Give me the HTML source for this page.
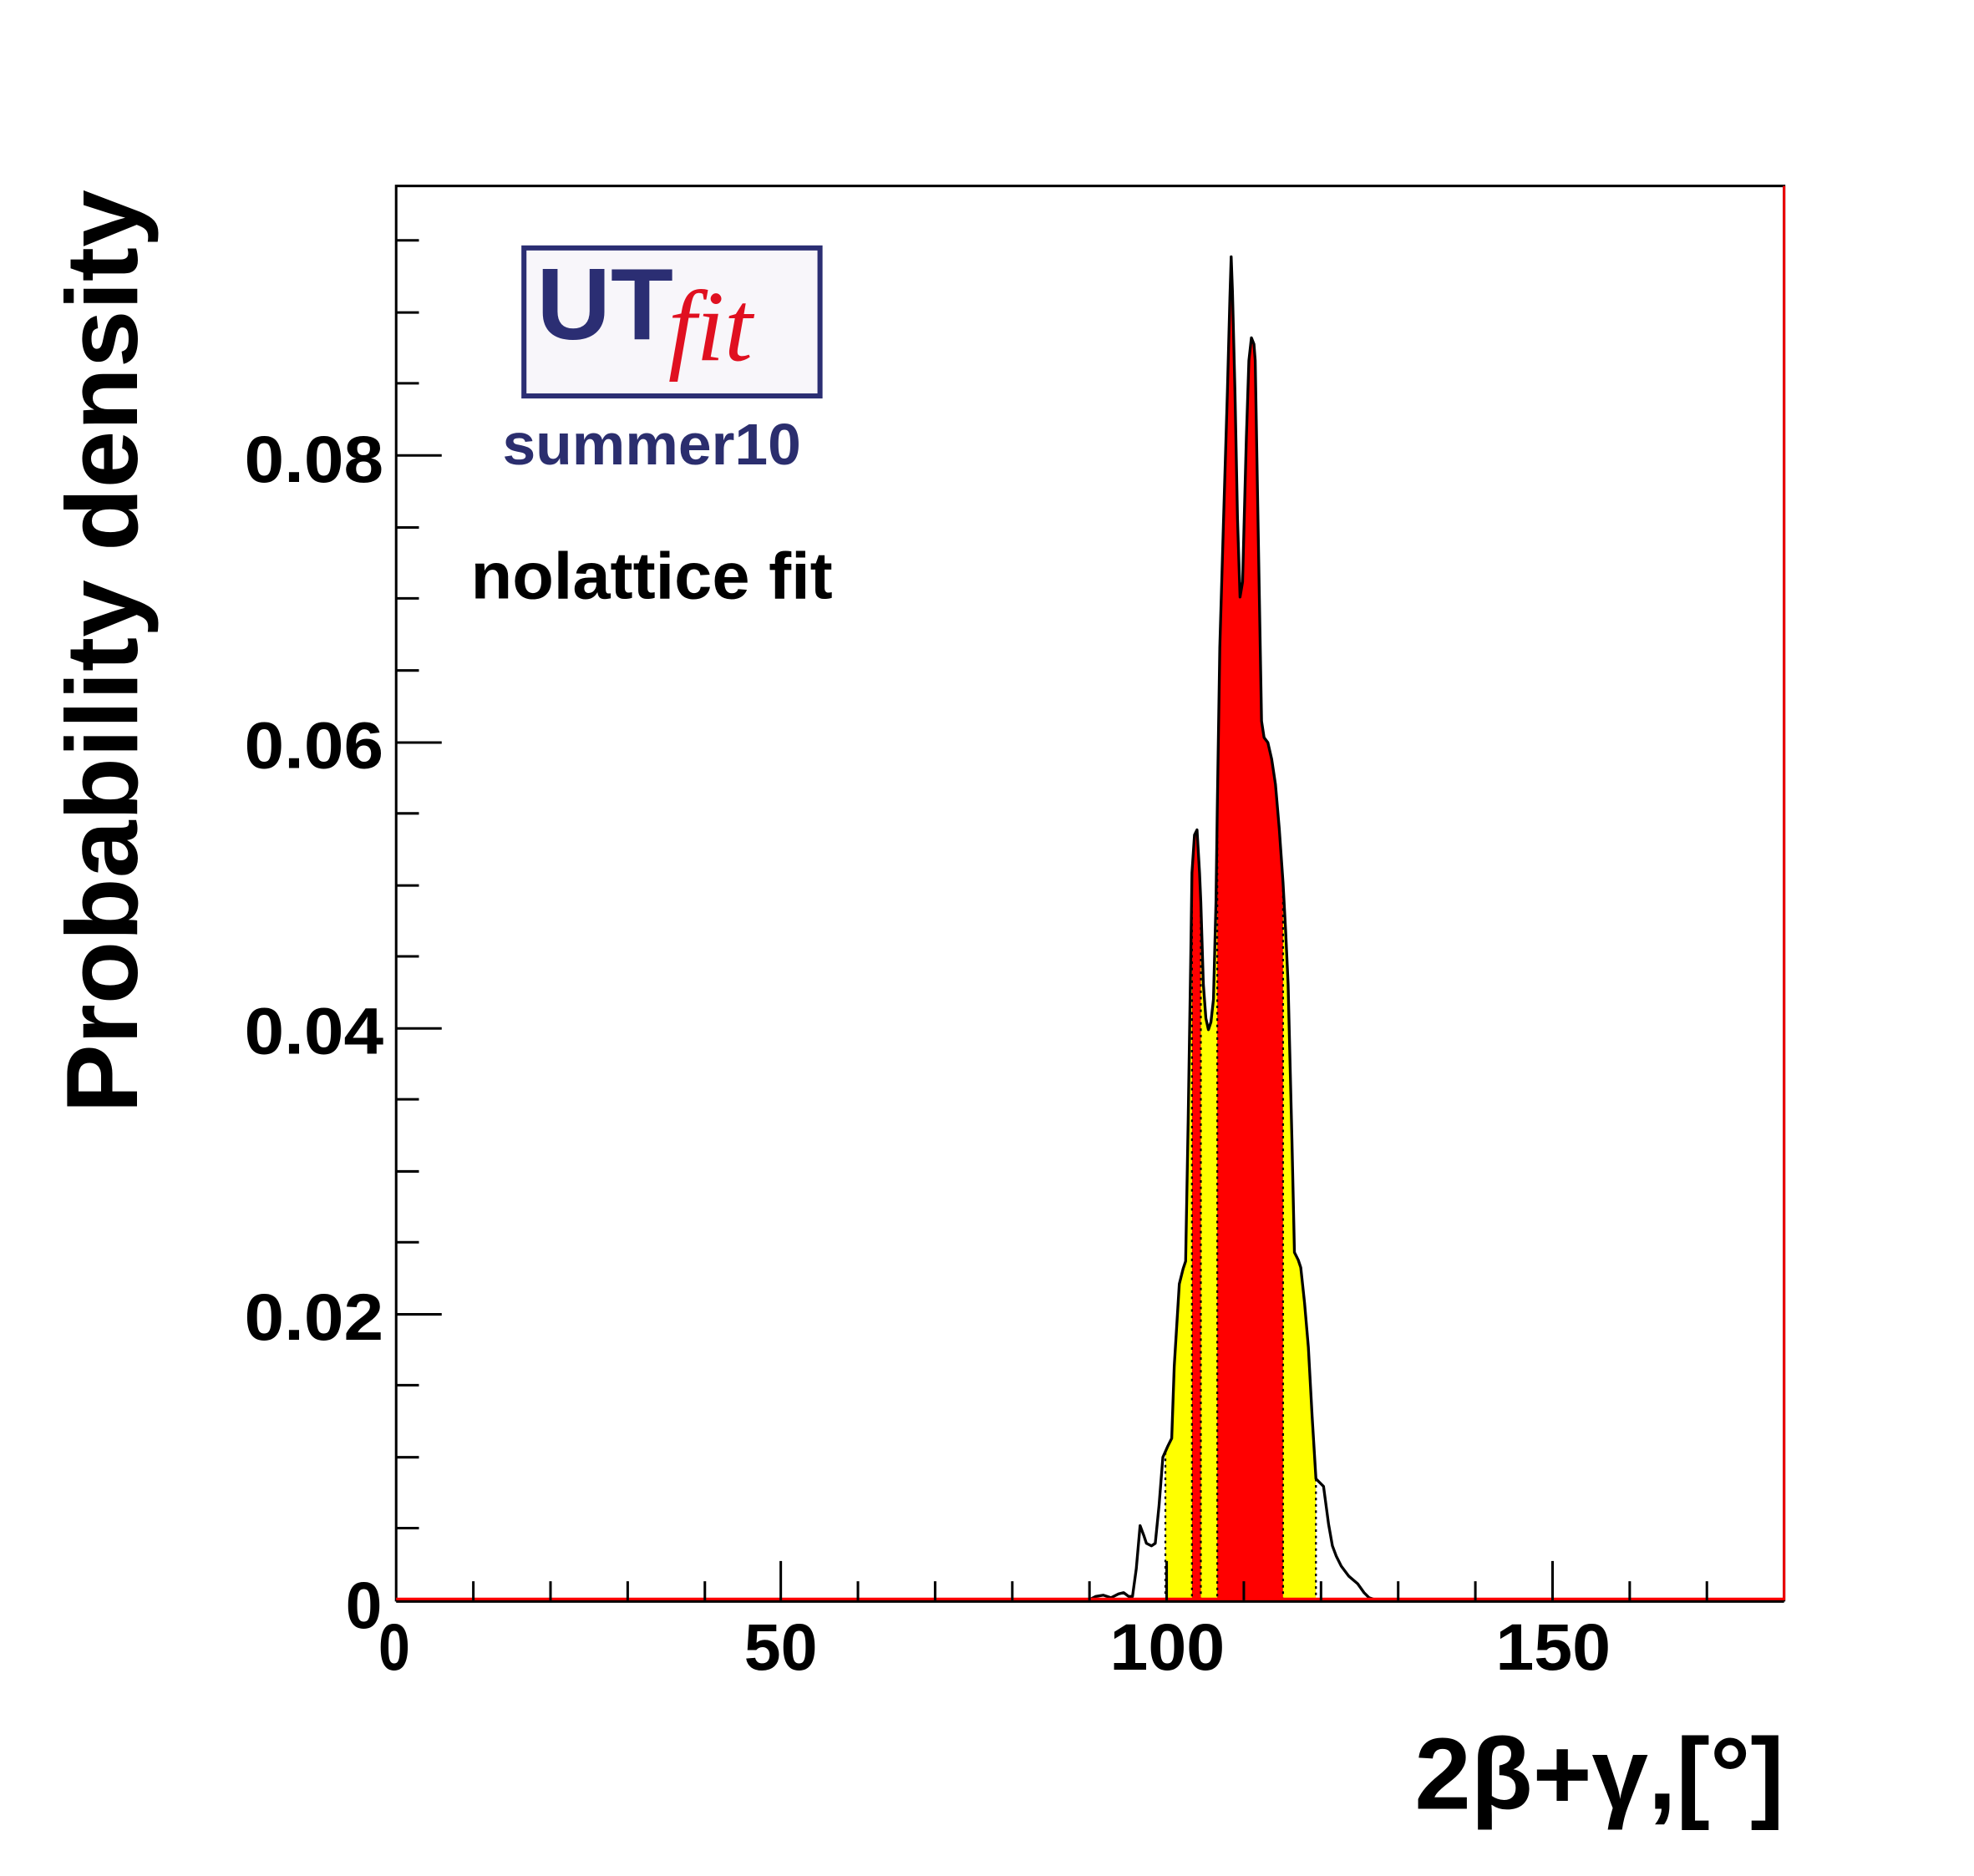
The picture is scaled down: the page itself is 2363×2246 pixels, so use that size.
<!DOCTYPE html>
<html><head><meta charset="utf-8"><style>
html,body{margin:0;padding:0;background:#fff;}
svg{display:block;}
text{font-family:"Liberation Sans",sans-serif;font-weight:bold;}
</style></head><body>
<svg width="2363" height="2246" viewBox="0 0 1560 1483" xmlns="http://www.w3.org/2000/svg">
<defs>
<path id="c" d="M313,1265 L860,1265 L866,1262 L872,1261 L878,1263 L884,1260 L888,1259 L892,1262 L895,1262 L898,1240 L901,1206 L904,1214 L906,1220 L910,1222 L913,1220 L916,1190 L919,1152 L923,1143 L926,1137 L928,1080 L932,1015 L935,1003 L937,997 L939,886 L941,760 L942,690 L944,660 L946,656 L948,690 L949,713 L951,778 L953,805 L955,814 L957,808 L959,790 L961,713 L962,640 L964,512 L967,410 L970,310 L972,235 L973,203 L974,230 L976,310 L978,410 L980,472 L982,460 L985,346 L987,285 L989,267 L991,272 L992,285 L994,400 L997,570 L999,583 L1002,587 L1005,600 L1008,620 L1011,655 L1014,698 L1016,735 L1018,778 L1021,900 L1023,990 L1026,996 L1028,1002 L1031,1030 L1034,1065 L1037,1120 L1040,1169 L1043,1172 L1046,1175 L1050,1205 L1053,1222 L1056,1230 L1060,1238 L1066,1246 L1073,1252 L1078,1259 L1082,1263 L1088,1265 L1410,1265"/>
<clipPath id="y"><rect x="921" y="0" width="119" height="1300"/></clipPath>
<clipPath id="r"><rect x="942" y="0" width="7" height="1300"/><rect x="962" y="0" width="52" height="1300"/></clipPath>
</defs>
<use href="#c" fill="#ffff00" clip-path="url(#y)"/>
<use href="#c" fill="#ff0000" clip-path="url(#r)"/>
<g stroke="#000" stroke-width="1.5" stroke-dasharray="2,3">
<line x1="921" y1="1148" x2="921" y2="1265"/>
<line x1="942" y1="690" x2="942" y2="1265"/>
<line x1="949" y1="713" x2="949" y2="1265"/>
<line x1="962" y1="640" x2="962" y2="1265"/>
<line x1="1014" y1="698" x2="1014" y2="1265"/>
<line x1="1040" y1="1169" x2="1040" y2="1265"/>
</g>
<use href="#c" fill="none" stroke="#000" stroke-width="2.2" stroke-linejoin="round"/>
<rect x="313" y="147" width="1097" height="1118" fill="none" stroke="#000" stroke-width="2"/>
<line x1="1410" y1="147" x2="1410" y2="1265" stroke="#e00" stroke-width="2"/>
<line x1="313" y1="1266" x2="1410" y2="1266" stroke="#000" stroke-width="2"/>
<line x1="313" y1="1264" x2="1410" y2="1264" stroke="#f00" stroke-width="2"/>
<g stroke="#000" stroke-width="2">
<line x1="313" y1="1039" x2="349" y2="1039"/><line x1="313" y1="813" x2="349" y2="813"/>
<line x1="313" y1="587" x2="349" y2="587"/><line x1="313" y1="360" x2="349" y2="360"/>
<line x1="313" y1="1208" x2="331" y2="1208"/><line x1="313" y1="1152" x2="331" y2="1152"/><line x1="313" y1="1095" x2="331" y2="1095"/>
<line x1="313" y1="982" x2="331" y2="982"/><line x1="313" y1="926" x2="331" y2="926"/><line x1="313" y1="869" x2="331" y2="869"/>
<line x1="313" y1="756" x2="331" y2="756"/><line x1="313" y1="700" x2="331" y2="700"/><line x1="313" y1="643" x2="331" y2="643"/>
<line x1="313" y1="530" x2="331" y2="530"/><line x1="313" y1="473" x2="331" y2="473"/><line x1="313" y1="417" x2="331" y2="417"/>
<line x1="313" y1="303" x2="331" y2="303"/><line x1="313" y1="247" x2="331" y2="247"/><line x1="313" y1="190" x2="331" y2="190"/>
<line x1="617" y1="1265" x2="617" y2="1234"/><line x1="922" y1="1265" x2="922" y2="1234"/><line x1="1227" y1="1265" x2="1227" y2="1234"/>
<line x1="374" y1="1265" x2="374" y2="1250"/><line x1="435" y1="1265" x2="435" y2="1250"/><line x1="496" y1="1265" x2="496" y2="1250"/><line x1="557" y1="1265" x2="557" y2="1250"/>
<line x1="678" y1="1265" x2="678" y2="1250"/><line x1="739" y1="1265" x2="739" y2="1250"/><line x1="800" y1="1265" x2="800" y2="1250"/><line x1="861" y1="1265" x2="861" y2="1250"/>
<line x1="983" y1="1265" x2="983" y2="1250"/><line x1="1044" y1="1265" x2="1044" y2="1250"/><line x1="1105" y1="1265" x2="1105" y2="1250"/><line x1="1166" y1="1265" x2="1166" y2="1250"/>
<line x1="1288" y1="1265" x2="1288" y2="1250"/><line x1="1349" y1="1265" x2="1349" y2="1250"/>
</g>
<g font-size="52">
<text x="193" y="381" textLength="110" lengthAdjust="spacingAndGlyphs">0.08</text>
<text x="193" y="607" textLength="110" lengthAdjust="spacingAndGlyphs">0.06</text>
<text x="193" y="833" textLength="110" lengthAdjust="spacingAndGlyphs">0.04</text>
<text x="193" y="1059" textLength="110" lengthAdjust="spacingAndGlyphs">0.02</text>
<text x="273" y="1287">0</text>
</g>
<g font-size="52">
<text x="299" y="1320" textLength="25" lengthAdjust="spacingAndGlyphs">0</text>
<text x="588" y="1320" textLength="58" lengthAdjust="spacingAndGlyphs">50</text>
<text x="877" y="1320" textLength="91" lengthAdjust="spacingAndGlyphs">100</text>
<text x="1182" y="1320" textLength="91" lengthAdjust="spacingAndGlyphs">150</text>
</g>
<text x="1410" y="1430" font-size="80" text-anchor="end">2β+γ,[°]</text>
<text transform="translate(108,880) rotate(-90)" font-size="80" textLength="730" lengthAdjust="spacingAndGlyphs">Probability density</text>
<rect x="414" y="196" width="234" height="117" fill="#f8f6fa" stroke="#2b2e73" stroke-width="4"/>
<text x="424" y="268" font-size="80" fill="#2b2e73" textLength="108" lengthAdjust="spacingAndGlyphs">UT</text>
<text x="528" y="285" font-size="80" fill="#e01020" style="font-family:'Liberation Serif',serif;font-weight:normal;font-style:italic">fit</text>
<text x="397" y="367" font-size="46" fill="#2b2e6e" textLength="236" lengthAdjust="spacingAndGlyphs">summer10</text>
<text x="372" y="473" font-size="52" fill="#000" textLength="286" lengthAdjust="spacingAndGlyphs">nolattice fit</text>
</svg>
</body></html>
